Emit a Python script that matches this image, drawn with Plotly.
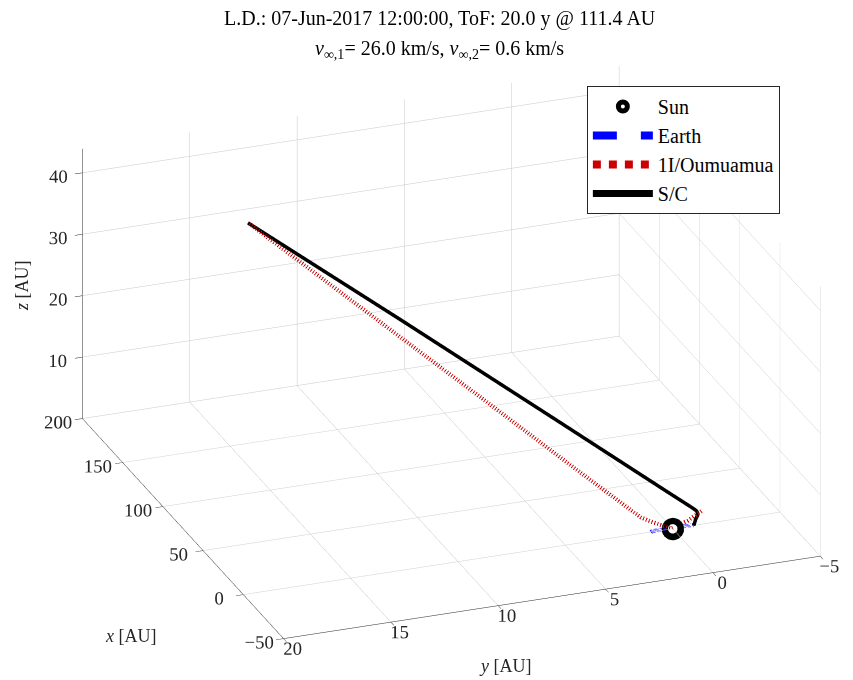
import plotly.graph_objects as go

# ---------------- data (heliocentric ecliptic, AU) ----------------
sun_x = [0.0]
sun_y = [0.0]
sun_z = [0.0]

earth_x = [-0.242, 0.174, 0.500, 0.766, 0.940, 1.000, 0.940, 0.766, 0.500, 0.174, 0.000]
earth_y = [-0.970, -0.985, -0.866, -0.643, -0.342, 0.000, 0.342, 0.643, 0.866, 0.985, 1.000]
earth_z = [0.0] * 11

oum_x = [0.23, 0.16, 0.12, 0.10, 0.15, 1.20, 2.82, 4.37, 7.24, 22.80, 43.90, 63.70, 101.00]
oum_y = [-1.35, -1.02, -0.71, -0.33, 0.05, 0.45, 0.90, 1.31, 1.76, 4.14, 7.33, 10.34, 16.00]
oum_z = [2.10, 1.50, 0.90, 0.55, 0.05, 0.60, 1.23, 1.90, 3.15, 9.91, 19.10, 27.70, 43.90]

sc_x = [-0.242, 0.80, 2.00, 3.50, 5.20, 11.57, 33.52, 68.46, 101.00]
sc_y = [-0.970, -1.11, -1.26, -1.24, -1.07, 0.10, 3.97, 10.16, 16.00]
sc_z = [0.00, 0.88, 1.40, 1.74, 2.16, 5.03, 14.57, 29.76, 43.90]

x_range = [-50, 200]
y_range = [-5, 20]
z_range = [0, 43.9]

title_line1 = "L.D.: 07-Jun-2017 12:00:00, ToF: 20.0 y @ 111.4 AU"
title_line2 = "<i>v</i><sub>∞,1</sub>= 26.0 km/s, <i>v</i><sub>∞,2</sub>= 0.6 km/s"

FONT = "Liberation Serif"

fig = go.Figure()
# Sun legend entry (ring icon); drawn first so the disc below covers it in 3D
fig.add_trace(go.Scatter3d(x=sun_x, y=sun_y, z=sun_z, mode="markers", name="Sun",
                           marker=dict(symbol="circle", size=9, color="white",
                                       line=dict(color="black", width=5))))
# thick black ring of the Sun marker
fig.add_trace(go.Scatter3d(x=sun_x, y=sun_y, z=sun_z, mode="markers", showlegend=False,
                           hoverinfo="skip",
                           marker=dict(symbol="circle", size=13, color="black",
                                       line=dict(color="black", width=0))))
fig.add_trace(go.Scatter3d(x=sun_x, y=sun_y, z=sun_z, mode="markers", showlegend=False,
                           hoverinfo="skip",
                           marker=dict(symbol="circle", size=5.5, color="white",
                                       line=dict(color="white", width=0))))
fig.add_trace(go.Scatter3d(x=earth_x, y=earth_y, z=earth_z, mode="lines", name="Earth",
                           line=dict(color="#0000ff", width=8, dash="dash")))
fig.add_trace(go.Scatter3d(x=oum_x, y=oum_y, z=oum_z, mode="lines", name="1I/Oumuamua",
                           line=dict(color="#cc0000", width=8, dash="dot")))
fig.add_trace(go.Scatter3d(x=sc_x, y=sc_y, z=sc_z, mode="lines", name="S/C",
                           line=dict(color="black", width=7)))

axis_common = dict(showbackground=False, showgrid=True, gridcolor="#c8c8c8", gridwidth=1,
                   showline=True, linecolor="#262626", linewidth=1,
                   ticks="outside", tickcolor="#262626", ticklen=8,
                   zeroline=False, showspikes=False, tickangle=0,
                   tickfont=dict(family=FONT, size=15, color="#262626"),
                   title=dict(text=""))

d = 2.5
t = 0.0758
shift = (0.3512 * t, 0.9363 * t, 0.0)
eye = (-0.854 * d + shift[0], 0.320 * d + shift[1], 0.410 * d + shift[2])
k = 1.75

fig.update_layout(
    width=853, height=680,
    margin=dict(l=0, r=0, t=0, b=0),
    paper_bgcolor="white",
    font=dict(family=FONT, size=20, color="black"),
    scene=dict(
        domain=dict(x=[0.0, 1.0], y=[0.0, 0.9626]),
        xaxis=dict(range=x_range, dtick=50, **axis_common),
        yaxis=dict(range=y_range, dtick=5, **axis_common),
        zaxis=dict(range=z_range, dtick=10, **axis_common),
        aspectmode="manual",
        aspectratio=dict(x=1 * k, y=1 * k, z=0.516 * k),
        camera=dict(eye=dict(x=eye[0], y=eye[1], z=eye[2]),
                    up=dict(x=0, y=0, z=1),
                    center=dict(x=shift[0], y=shift[1], z=shift[2]),
                    projection=dict(type="orthographic")),
    ),
    legend=dict(x=0.688, y=0.8735, xanchor="left", yanchor="top",
                bgcolor="white", bordercolor="#262626", borderwidth=1,
                font=dict(family=FONT, size=20, color="black"),
                itemwidth=60, traceorder="normal"),
    showlegend=True,
    annotations=[
        dict(text=title_line1, x=440 / 853, y=1 - 18 / 680, xref="paper", yref="paper",
             showarrow=False, xanchor="center", yanchor="middle",
             font=dict(family=FONT, size=20, color="black")),
        dict(text=title_line2, x=440 / 853, y=1 - 50 / 680, xref="paper", yref="paper",
             showarrow=False, xanchor="center", yanchor="middle",
             font=dict(family=FONT, size=20, color="black")),
        dict(text="<i>x</i> [AU]", x=131 / 853, y=1 - 636 / 680, xref="paper", yref="paper",
             showarrow=False, xanchor="center", yanchor="middle",
             font=dict(family=FONT, size=18, color="#262626")),
        dict(text="<i>y</i> [AU]", x=505 / 853, y=1 - 666 / 680, xref="paper", yref="paper",
             showarrow=False, xanchor="center", yanchor="middle",
             font=dict(family=FONT, size=18, color="#262626")),
        dict(text="<i>z</i> [AU]", x=22 / 853, y=1 - 286 / 680, xref="paper", yref="paper",
             showarrow=False, xanchor="center", yanchor="middle", textangle=-90,
             font=dict(family=FONT, size=18, color="#262626")),
    ],
)

fig.write_html("out.html")
